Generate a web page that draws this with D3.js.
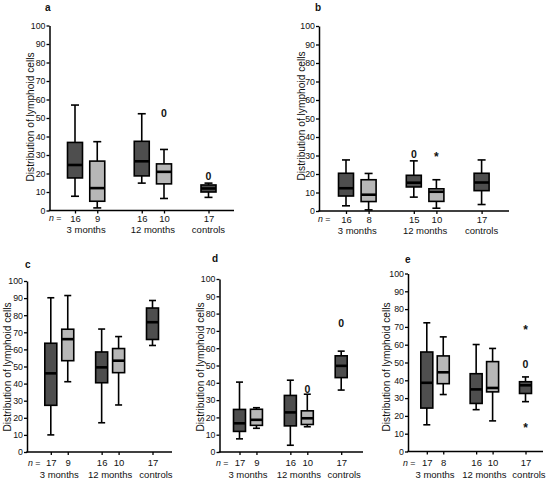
<!DOCTYPE html>
<html><head><meta charset="utf-8">
<script src="https://cdn.jsdelivr.net/npm/d3@7"></script>
<style>
body{margin:0;background:#fff}
svg{display:block}
text{font-family:"Liberation Sans",Arial,Helvetica,sans-serif;fill:#111}
</style>
</head><body>
<svg id="chart" width="550" height="480"></svg>
<script>
// ---------- data ----------
const slots = ["3m-1","3m-2","gap-1","12m-1","12m-2","gap-2","ctrl"];
const boxSlots = ["3m-1","3m-2","12m-1","12m-2","ctrl"];
const boxTone = ["dark","light","dark","light","dark"];
const groupLabels = ["3 months","12 months","controls"];
const groupSlots = [["3m-1","3m-2"],["12m-1","12m-2"],["ctrl"]];
const yTicks = [0,10,20,30,40,50,60,70,80,90,100];
const yTitle = "Distribution of lymphoid cells";
const panelLetters = ["a","b","c","d","e"];

// n per box
const nA = [16, 9, 16, 10, 17];
const nB = [16, 8, 15, 10, 17];
const nC = [17, 9, 16, 10, 17];
const nD = [17, 9, 16, 10, 17];
const nE = [17, 8, 16, 10, 17];

// [min, q1, median, q3, max] per box
const statsA = [[7.7,17.6,24.6,36.8,57],[1.4,5,12.1,26.7,37.2],[14.8,18.7,26.6,37.4,52.3],[6.5,14.4,20.9,25.2,33],[7.1,10,11.9,13.8,14.8]];
const statsB = [[2.8,8.1,12.3,20.4,27.6],[0.6,5.1,8.8,16.9,20.3],[7.5,13,15.3,19.3,27.1],[1.5,5.2,10.4,12,16.9],[3.5,11,15.4,20.4,27.6]];
const statsC = [[10,27.3,46,63.6,90.2],[41.1,53.4,66,71.8,91.5],[17.1,40.5,49.5,58.5,71.9],[27.5,46.4,53.4,60.5,67.5],[62.3,65.8,75.9,84.2,88.6]];
const statsD = [[7.6,11.9,16.6,24.6,40.4],[13.7,15.4,18.6,24.7,25.6],[3.9,15.1,22.9,32.7,41.5],[14.6,15.9,19.5,23.8,33.4],[35.8,43,49.8,55.6,58.3]];
const statsE = [[15,24.4,38.6,55.9,72.3],[32,38.1,44.5,53.7,64.4],[23.5,27,34.9,43.7,60.1],[17.2,33.5,35.7,50.5,57.9],[28,32.6,37.2,39.2,41.9]];

// outliers: box index, value, marker
const outliersA = [{box:3, value:52.7, mark:"o"},{box:4, value:18.8, mark:"o"}];
const outliersB = [{box:2, value:30.7, mark:"o"},{box:3, value:30.6, mark:"*"}];
const outliersC = [];
const outliersD = [{box:3, value:36.4, mark:"o"},{box:4, value:74.3, mark:"o"}];
const outliersE = [{box:4, value:69.5, mark:"*"},{box:4, value:49, mark:"o"},{box:4, value:14.7, mark:"*"}];

// ---------- layout / style ----------
const toneFill = {dark:"#4e4e4e", light:"#b7b7b7"};
const FS_N = 9.5;
const panels = [
  {n:nA, stats:statsA, out:outliersA, axisX:49.5, y0:210.5, y100:25.5, p0:75, p6:208.5, xEnd:234, boxW:15, capW:8,
   nCenter:218.3, groupCenter:229.5, ctrlShift:0, nEqX:49, letter:[45,10.5], titleX:30, titleY:117},
  {n:nB, stats:statsB, out:outliersB, axisX:319, y0:211, y100:26, p0:346, p6:481.6, xEnd:509, boxW:15, capW:8,
   nCenter:219.3, groupCenter:230.5, ctrlShift:0, nEqX:318, letter:[315,10.5], titleX:301, titleY:116},
  {n:nC, stats:statsC, out:outliersC, axisX:27, y0:452, y100:281, p0:50.8, p6:152.5, xEnd:172, boxW:12, capW:7,
   nCenter:463, groupCenter:474.3, ctrlShift:3.5, nEqX:28, letter:[25,267.5], titleX:7, titleY:367},
  {n:nD, stats:statsD, out:outliersD, axisX:219.5, y0:452, y100:279, p0:239.5, p6:341.2, xEnd:363, boxW:12, capW:7,
   nCenter:463, groupCenter:474.3, ctrlShift:3, nEqX:216, letter:[212,261.5], titleX:200, titleY:367},
  {n:nE, stats:statsE, out:outliersE, axisX:408, y0:451.5, y100:273.5, p0:426.8, p6:525.5, xEnd:543, boxW:12, capW:7,
   nCenter:463, groupCenter:474.3, ctrlShift:3.5, nEqX:403, letter:[405,263], titleX:386, titleY:367}
];

const svg = d3.select("#chart");

panels.forEach((P, pi) => {
  const g = svg.append("g");
  const y = d3.scaleLinear().domain([0,100]).range([P.y0, P.y100]);
  const x = d3.scalePoint().domain(slots).range([P.p0, P.p6]);
  const pad = P.nCenter - P.y0 - 3 - 0.355 * FS_N;

  // panel letter
  g.append("text").attr("x", P.letter[0]).attr("y", P.letter[1])
    .attr("font-size", 10).attr("font-weight", "bold").text(panelLetters[pi]);

  // y title
  g.append("text")
    .attr("transform", `translate(${P.titleX},${P.titleY}) rotate(-90)`)
    .attr("text-anchor","middle").attr("dy","0.35em")
    .attr("font-size", 10.2).text(yTitle);

  // y axis
  const ya = g.append("g").attr("transform", `translate(${P.axisX},0)`)
    .call(d3.axisLeft(y).tickValues(yTicks).tickSize(3).tickPadding(1).tickSizeOuter(0));
  ya.select(".domain").attr("stroke","#000").attr("stroke-width",1.5);
  ya.selectAll(".tick line").attr("stroke","#000").attr("stroke-width",1.3);
  ya.selectAll(".tick text").attr("font-size", 8.8).attr("font-family","Liberation Sans, Arial, sans-serif").attr("fill","#111");

  // x axis line
  g.append("line").attr("x1", P.axisX - 0.75).attr("x2", P.xEnd)
    .attr("y1", P.y0).attr("y2", P.y0).attr("stroke","#000").attr("stroke-width",1.5);
  const xa = g.append("g").attr("transform", `translate(0,${P.y0})`)
    .call(d3.axisBottom(x).tickValues(boxSlots).tickSize(3).tickPadding(pad)
      .tickFormat(d => P.n[boxSlots.indexOf(d)]));
  xa.select(".domain").remove();
  xa.selectAll(".tick line").attr("stroke","#000").attr("stroke-width",1.3);
  xa.selectAll(".tick text").attr("font-size", FS_N).attr("font-family","Liberation Sans, Arial, sans-serif").attr("fill","#111");

  // n =
  const ne = g.append("text").attr("x", P.nEqX).attr("y", P.y0 + 3 + pad).attr("dy","0.71em")
    .attr("font-size", 8.8);
  ne.append("tspan").attr("font-style","italic").text("n");
  ne.append("tspan").text(" =");

  // group labels
  g.selectAll(".grp").data(groupLabels).join("text")
    .attr("x", (d,i) => d3.mean(groupSlots[i], s => x(s)) + (i === 2 ? P.ctrlShift : 0))
    .attr("y", P.groupCenter + 0.35 * FS_N).attr("text-anchor","middle").attr("font-size",FS_N).text(d => d);

  // boxes
  const bx = g.selectAll(".box").data(P.stats).join("g")
    .attr("transform", (d,i) => `translate(${x(boxSlots[i])},0)`);
  bx.append("line").attr("y1", d => y(d[0])).attr("y2", d => y(d[4]))
    .attr("stroke","#000").attr("stroke-width",1.6);
  bx.append("line").attr("x1", -P.capW/2).attr("x2", P.capW/2)
    .attr("y1", d => y(d[4])).attr("y2", d => y(d[4])).attr("stroke","#000").attr("stroke-width",1.6);
  bx.append("line").attr("x1", -P.capW/2).attr("x2", P.capW/2)
    .attr("y1", d => y(d[0])).attr("y2", d => y(d[0])).attr("stroke","#000").attr("stroke-width",1.6);
  bx.append("rect").attr("x", -P.boxW/2).attr("width", P.boxW)
    .attr("y", d => y(d[3])).attr("height", d => y(d[1]) - y(d[3]))
    .attr("fill", (d,i) => toneFill[boxTone[i]]).attr("stroke","#000").attr("stroke-width",1.6);
  bx.append("line").attr("x1", -P.boxW/2).attr("x2", P.boxW/2)
    .attr("y1", d => y(d[2])).attr("y2", d => y(d[2])).attr("stroke","#000").attr("stroke-width",2.6);

  // outliers
  g.selectAll(".out").data(P.out).join("text")
    .attr("x", d => x(boxSlots[d.box]))
    .attr("y", d => y(d.value) + (d.mark === "o" ? 3.8 : 6.5))
    .attr("text-anchor","middle").attr("font-weight","bold").attr("fill","#000")
    .attr("font-size", d => d.mark === "o" ? 10.5 : 12)
    .text(d => d.mark === "o" ? "0" : "*");
});
</script>
</body></html>
